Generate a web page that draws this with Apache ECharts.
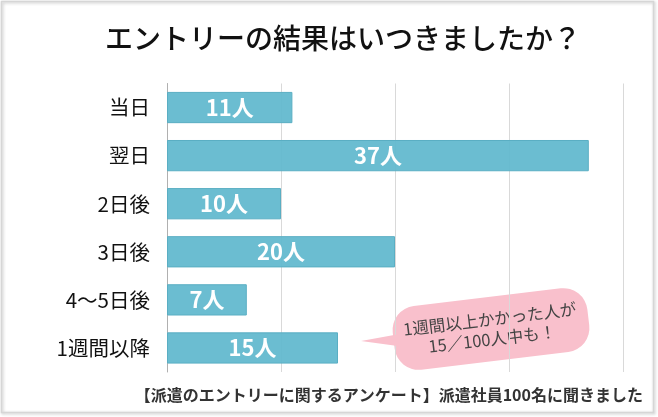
<!DOCTYPE html>
<html><head><meta charset="utf-8">
<script src="https://cdn.jsdelivr.net/npm/echarts@6/dist/echarts.min.js"></script>
<style>html,body{margin:0;padding:0;background:#fff}#c{width:658px;height:417px}</style>
</head><body><div id="c"></div>
<script>
var categories = ['当日', '翌日', '2日後', '3日後', '4～5日後', '1週間以降'];
var values = [11, 37, 10, 20, 7, 15];
var titleText = 'エントリーの結果はいつきましたか？';
var footerText = '【派遣のエントリーに関するアンケート】派遣社員100名に聞きました';
var calloutLines = ['1週間以上かかった人が', '15／100人中も！'];

var F = '"Noto Sans CJK JP", sans-serif';
var chart = echarts.init(document.getElementById('c'));
chart.setOption({
  animation: false,
  title: {
    text: titleText, left: 100, top: 19,
    textStyle: {fontFamily: F, fontSize: 28, fontWeight: 500, color: '#111'}
  },
  grid: {left: 167, right: 35, top: 83.5, bottom: 45, containLabel: false},
  xAxis: {
    type: 'value', min: 0, max: 40, interval: 10,
    axisLabel: {show: false}, axisTick: {show: false}, axisLine: {show: false},
    splitLine: {lineStyle: {color: '#d9d9d9', width: 1}}
  },
  yAxis: {
    type: 'category', data: categories, inverse: true,
    axisTick: {show: false},
    axisLine: {lineStyle: {color: '#b0b0b0', width: 1}},
    axisLabel: {fontFamily: F, fontSize: 20.5, color: '#111', margin: 17}
  },
  series: [{
    type: 'bar', data: values, barCategoryGap: '35%',
    itemStyle: {color: 'rgba(96,184,205,0.93)', borderColor: '#5aaec3', borderWidth: 1},
    label: {
      show: true, position: 'inside', formatter: '{c}人',
      fontFamily: F, fontSize: 22, fontWeight: 'bold', color: '#fff'
    }
  }],
  graphic: [
    {type: 'rect', shape: {x: 1.5, y: 1.5, width: 652, height: 411},
     style: {fill: 'none', stroke: '#d6d6d6', lineWidth: 1.5, shadowBlur: 3, shadowColor: 'rgba(0,0,0,0.25)', shadowOffsetX: 1, shadowOffsetY: 1}, z: 0, silent: true},
    {type: 'text', right: 15, top: 387,
     style: {text: footerText, fontFamily: F, fontSize: 16, fontWeight: 'bold', fill: '#333'}},
    {type: 'polygon', shape: {points: [[361, 341], [405, 333], [405, 347]]},
     style: {fill: '#f9c0cc'}, z: 10},
    {type: 'group', x: 491, y: 329, rotation: 0.12, z: 10,
     children: [
       {type: 'rect', shape: {x: -98, y: -32, width: 196, height: 64, r: 24},
        style: {fill: '#f9c0cc'}},
       {type: 'text', x: 0, y: -10,
        style: {text: calloutLines[0], fontFamily: F, fontSize: 16.5, fill: '#444', align: 'center', verticalAlign: 'middle'}},
       {type: 'text', x: 0, y: 10,
        style: {text: calloutLines[1], fontFamily: F, fontSize: 16.5, fill: '#444', align: 'center', verticalAlign: 'middle'}}
     ]}
  ]
});
</script></body></html>
